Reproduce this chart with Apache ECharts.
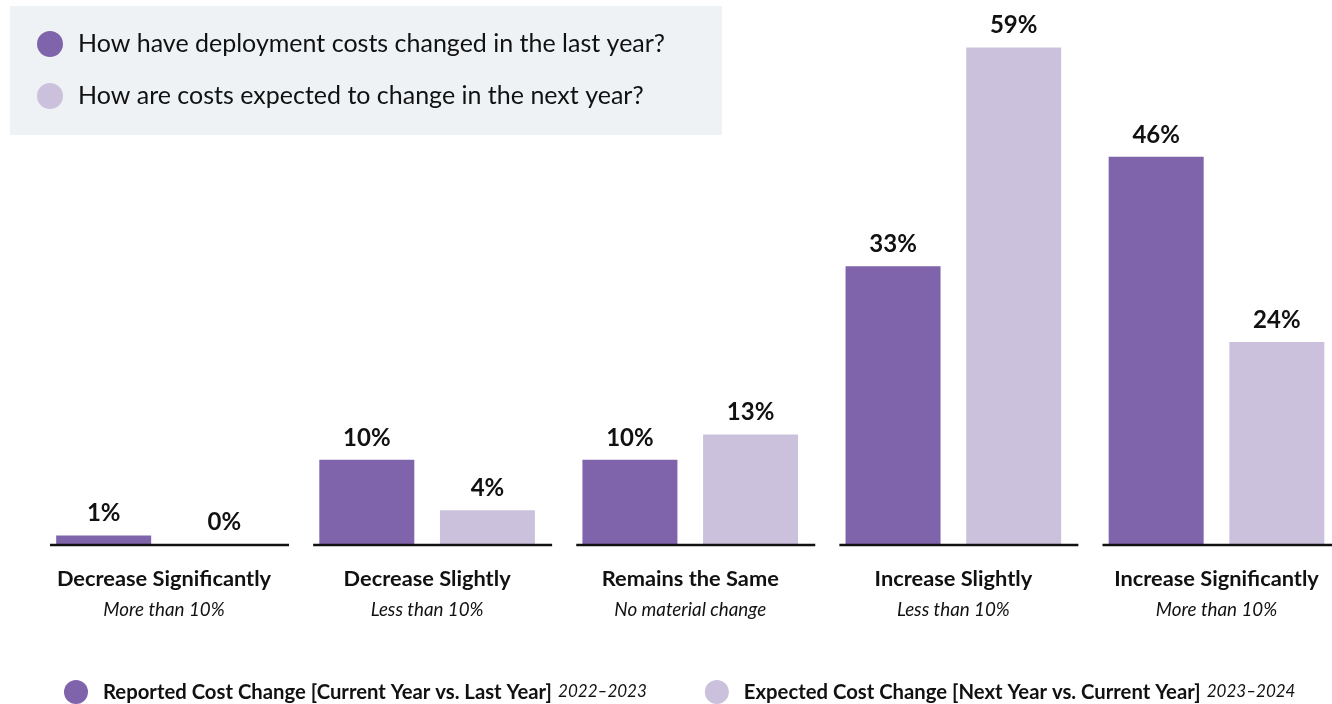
<!DOCTYPE html>
<html>
<head>
<meta charset="utf-8">
<script src="https://cdn.jsdelivr.net/npm/echarts@6/dist/echarts.min.js"></script>
<style>html,body{margin:0;padding:0;background:#fff}#c{width:1332px;height:704px}</style>
</head>
<body>
<div id="c"></div>
<script>
const categories = ['Decrease Significantly','Decrease Slightly','Remains the Same','Increase Slightly','Increase Significantly'];
const subLabels = ['More than 10%','Less than 10%','No material change','Less than 10%','More than 10%'];
const reported = [1, 10, 10, 33, 46];
const expected = [0, 4, 13, 59, 24];
const seriesNames = ['Reported','Expected'];
const questionText = ['How have deployment costs changed in the last year?','How are costs expected to change in the next year?'];
const legendBold = ['Reported Cost Change [Current Year vs. Last Year]','Expected Cost Change [Next Year vs. Current Year]'];
const legendYears = ['2022–2023','2023–2024'];

const DARK = '#8064ab', LIGHT = '#cbc1dd';
const FONT = 'Lato';

const chart = echarts.init(document.getElementById('c'));
const labelCfg = {
  show: true, position: 'top', distance: 10,
  formatter: '{c}%', color: '#111', fontFamily: FONT, fontWeight: 'bold', fontSize: 24
};
chart.setOption({
  animation: false,
  textStyle: { fontFamily: FONT },
  graphic: [{
    type: 'rect', left: 10, top: 6, z: -10,
    shape: { width: 712, height: 129 },
    style: { fill: '#eef2f5' }
  }],
  legend: [{
    data: seriesNames, orient: 'vertical', left: 37, top: 31, padding: 0,
    icon: 'circle', itemWidth: 26, itemHeight: 26, itemGap: 26,
    selectedMode: false,
    formatter: n => questionText[seriesNames.indexOf(n)],
    textStyle: { fontSize: 25, color: '#111', fontFamily: FONT, padding: [0,0,0,10] }
  }, {
    data: seriesNames, orient: 'horizontal', left: 64, top: 680, padding: 0,
    icon: 'circle', itemWidth: 24, itemHeight: 24, itemGap: 58,
    selectedMode: false,
    formatter: n => { const i = seriesNames.indexOf(n); return '{b|' + legendBold[i] + '}  {i|' + legendYears[i] + '}'; },
    textStyle: {
      padding: [0,0,0,10],
      rich: {
        b: { fontSize: 20.3, fontWeight: 'bold', color: '#111', fontFamily: FONT },
        i: { fontSize: 17, fontStyle: 'italic', color: '#111', fontFamily: FONT }
      }
    }
  }],
  grid: { left: 164, right: 115.5, top: 39, bottom: 160 },
  xAxis: {
    type: 'category', data: categories, boundaryGap: false,
    axisLine: { show: false }, axisTick: { show: false },
    axisLabel: {
      margin: 20, interval: 0,
      formatter: (v, i) => '{a|' + v + '}\n{s|' + subLabels[i] + '}',
      rich: {
        a: { fontSize: 21.8, fontWeight: 'bold', color: '#111', fontFamily: FONT, lineHeight: 30 },
        s: { fontSize: 18.8, fontStyle: 'italic', color: '#111', fontFamily: FONT, lineHeight: 31 }
      }
    }
  },
  yAxis: { type: 'value', min: 0, max: 60, show: false, splitLine: { show: false } },
  series: [{
    name: seriesNames[0], type: 'bar', data: reported, barWidth: 95, barGap: '27%', clip: false,
    itemStyle: { color: DARK }, label: labelCfg
  }, {
    name: seriesNames[1], type: 'bar', data: expected, barWidth: 95, clip: false,
    itemStyle: { color: LIGHT }, label: labelCfg
  }, {
    type: 'custom', z: 10, silent: true, clip: false,
    data: categories.map((c, i) => [i, 0]),
    renderItem: (params, api) => {
      const p = api.coord([api.value(0), 0]);
      return {
        type: 'line',
        shape: { x1: p[0] - 114, y1: p[1] + 1, x2: p[0] + 125, y2: p[1] + 1 },
        style: { stroke: '#111', lineWidth: 2.5 }
      };
    }
  }]
});
</script>
</body>
</html>
